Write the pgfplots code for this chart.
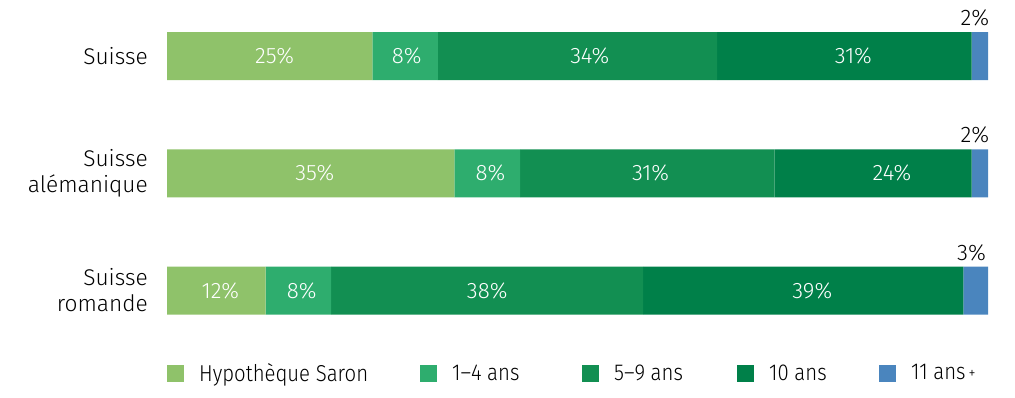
\documentclass[border=0pt]{standalone}
\usepackage{fontspec}
\setmainfont{Fira Sans}
\newfontfamily\lightfont{Fira Sans Light}
\newfontfamily\condfont{Fira Sans Light}[FakeStretch=0.885]
\usepackage{pgfplots}
\pgfplotsset{compat=1.18}
\usepackage{pgfplotstable}
\definecolor{cSaron}{HTML}{8FC26A}
\definecolor{cA}{HTML}{2EAD6E}
\definecolor{cB}{HTML}{128F52}
\definecolor{cC}{HTML}{008049}
\definecolor{cD}{HTML}{4A85BE}
\newcommand{\fsz}{\lightfont\fontsize{22.7}{26}\selectfont}
\newcommand{\lsz}{\lightfont\fontsize{22.3}{26}\selectfont}
\newcommand{\tsz}{\lightfont\fontsize{22.5}{26}\selectfont}
\newcommand{\gsz}{\condfont\fontsize{23}{26}\selectfont}

\pgfplotstableread{
y saron a b c d
0 25 8 34 31 2
1 35 8 31 24 2
2 12 8 38 39 3
}\datatable

\pgfplotstableread{
x y lab
13.1 0 25
29.2 0 8
51.5 0 34
83.6 0 31
18.0 1 35
39.4 1 8
58.9 1 31
88.3 1 24
6.5 2 12
16.4 2 8
39.0 2 38
78.6 2 39
}\inlabels

\pgfplotstableread{
x y lab
98.4 0 2
98.4 1 2
98.0 2 3
}\toplabels

\pgfplotsset{
  common/.style={
    at={(167pt,393.76pt)}, anchor=north west,
    scale only axis, width=821pt, height=340.06pt,
    xmin=0, xmax=100, ymin=-0.45, ymax=2.45, y dir=reverse,
  }
}

\begin{document}
\begin{tikzpicture}
\useasboundingbox (0,0) rectangle (1015pt,397pt);
\begin{axis}[
  common,
  xbar stacked, bar width=48pt,
  axis line style={draw=none}, xtick=\empty,
  ytick={0,1,2},
  yticklabels={Suisse, {Suisse\\alémanique}, {Suisse\\romande}},
  major tick length=0pt,
  yticklabel style={align=right, font=\fsz, inner sep=0pt, xshift=-19pt},
  legend columns=5,
  legend image code/.code={\fill[#1] (0pt,-8.5pt) rectangle (17pt,8.5pt);},
  legend style={at={(axis description cs:0,0)}, anchor=west, yshift=-29.7pt,
    draw=none, fill=none, inner sep=0pt, font=\gsz,
    nodes={inner sep=0pt},
    /tikz/every odd column/.append style={column sep=15pt},
    /tikz/every even column/.append style={column sep=0pt}},
  legend cell align=left,
]
\addplot[fill=cSaron, draw=none] table[x=saron, y=y] {\datatable};
\addlegendentry{\makebox[221pt][l]{Hypothèque Saron}}
\addplot[fill=cA, draw=none] table[x=a, y=y] {\datatable};
\addlegendentry{\makebox[130pt][l]{1–4 ans}}
\addplot[fill=cB, draw=none] table[x=b, y=y] {\datatable};
\addlegendentry{\makebox[123pt][l]{5–9 ans}}
\addplot[fill=cC, draw=none] table[x=c, y=y] {\datatable};
\addlegendentry{\makebox[110pt][l]{10 ans}}
\addplot[fill=cD, draw=none] table[x=d, y=y] {\datatable};
\addlegendentry{11 ans\kern3pt\raisebox{1.5pt}{\fontsize{16}{16}\selectfont +}}
\end{axis}
\begin{axis}[common, hide axis]
\addplot[only marks, mark=none, point meta=explicit symbolic,
  nodes near coords={\pgfplotspointmeta\%},
  every node near coord/.style={anchor=center, text=white, font=\lsz, inner sep=0pt}]
  table[x=x, y=y, meta=lab] {\inlabels};
\addplot[only marks, mark=none, point meta=explicit symbolic,
  nodes near coords={\pgfplotspointmeta\%},
  every node near coord/.style={anchor=center, text=black, font=\tsz, inner sep=0pt, yshift=38pt}]
  table[x=x, y=y, meta=lab] {\toplabels};
\end{axis}
\end{tikzpicture}
\end{document}
